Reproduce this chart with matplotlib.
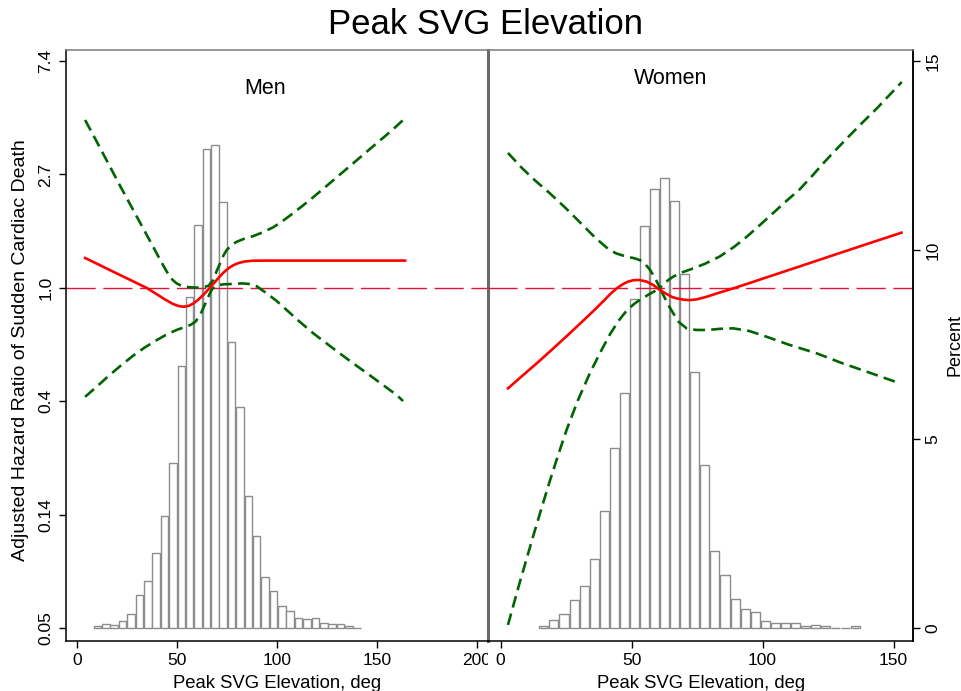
import numpy as np
import matplotlib
matplotlib.use("Agg")
import matplotlib.pyplot as plt
from matplotlib.transforms import Bbox, TransformedBbox

plt.rcParams["font.family"] = ["Liberation Sans", "DejaVu Sans"]
plt.rcParams["lines.scale_dashes"] = False

# ---------------- data ----------------
# Histogram of peak SVG elevation (percent of subjects per bin)
men_bin_start, men_bin_width = 8.3, 4.19
men_pct = [0.05, 0.11, 0.08, 0.18, 0.39, 0.88, 1.25, 1.99, 2.97, 4.37, 6.93,
           8.75, 10.66, 12.67, 12.78, 11.28, 7.58, 5.85, 3.51, 2.43, 1.36,
           0.99, 0.60, 0.46, 0.26, 0.24, 0.28, 0.14, 0.12, 0.11, 0.06, 0.02]
women_bin_start, women_bin_width = 14.6, 3.84
women_pct = [0.05, 0.23, 0.38, 0.74, 1.12, 1.83, 3.11, 4.76, 6.23, 8.70, 10.64,
             11.62, 11.90, 11.30, 9.37, 6.77, 4.33, 2.04, 1.40, 0.77, 0.50,
             0.43, 0.19, 0.15, 0.15, 0.15, 0.05, 0.08, 0.05, 0.02, 0.02, 0.05]

# Spline estimates on the log hazard-ratio scale
men_fit_x = [4.2, 12, 20, 28, 35, 40, 44, 48, 51, 53.5, 56, 58.5, 61, 63.5, 66,
             68.5, 71, 73.5, 76, 78.5, 81, 84, 88, 95, 164.2]
men_fit = [0.264, 0.197, 0.128, 0.06, 0.0, -0.055, -0.1, -0.14, -0.16, -0.166,
           -0.158, -0.135, -0.1, -0.058, -0.01, 0.04, 0.09, 0.137, 0.175, 0.202,
           0.22, 0.233, 0.24, 0.241, 0.241]
men_hi_x = [4.2, 10, 16, 22, 28, 34, 38, 41.5, 44, 46, 48, 50, 52, 54, 57, 60,
            63.3, 66, 68.3, 70, 71.7, 73.5, 75, 77.5, 80, 84, 88.3, 93, 98.3,
            103, 108.3, 113, 118.3, 126, 135, 141, 148.3, 153, 158.3, 163.2]
men_hi = [1.48, 1.29, 1.09, 0.89, 0.695, 0.5, 0.37, 0.255, 0.175, 0.115, 0.07,
          0.04, 0.022, 0.012, 0.005, 0.003, 0.005, 0.02, 0.07, 0.15, 0.217,
          0.29, 0.334, 0.38, 0.407, 0.435, 0.457, 0.49, 0.535, 0.59, 0.66,
          0.725, 0.8, 0.915, 1.05, 1.14, 1.25, 1.32, 1.4, 1.48]
men_lo_x = [4.2, 10, 16, 22, 28, 34, 40, 45, 50, 54, 57, 59.5, 61.5, 63, 64.5,
            66, 67.5, 69, 71, 73.5, 76.7, 80, 83, 86.7, 90, 95, 100, 105, 111,
            118.3, 125, 131, 138.3, 145, 152, 160, 163.2]
men_lo = [-0.96, -0.87, -0.775, -0.685, -0.6, -0.525, -0.46, -0.41, -0.37,
          -0.345, -0.325, -0.295, -0.245, -0.19, -0.13, -0.07, -0.015, 0.012,
          0.025, 0.032, 0.034, 0.038, 0.04, 0.034, 0.015, -0.048, -0.115,
          -0.195, -0.29, -0.4, -0.49, -0.57, -0.665, -0.75, -0.84, -0.944,
          -0.997]

women_fit_x = [2.8, 8, 14, 20, 25.2, 31, 36, 39.5, 42, 44.5, 46.8, 48.7, 50.6,
               53, 55.7, 58.3, 60.8, 63.5, 65.5, 67.2, 70, 72.3, 75, 78.6, 83,
               88.8, 95, 101.5, 114.2, 126.9, 139.7, 153]
women_fit = [-0.885, -0.78, -0.66, -0.535, -0.425, -0.3, -0.19, -0.11, -0.05,
             0.0, 0.035, 0.056, 0.068, 0.07, 0.056, 0.025, -0.018, -0.055,
             -0.08, -0.092, -0.104, -0.107, -0.1, -0.078, -0.045, -0.004,
             0.043, 0.093, 0.19, 0.288, 0.386, 0.487]
women_hi_x = [2.8, 8, 13, 18.8, 25, 31.5, 36, 40.5, 44, 48.1, 51, 53.2, 55,
              57, 59, 60.8, 62.5, 65.9, 69, 73.5, 78, 83.7, 89, 93.9, 99, 104,
              109, 114.2, 119, 123.8, 128.5, 133.3, 138, 143.5, 148, 153.1]
women_hi = [1.19, 1.06, 0.95, 0.834, 0.70, 0.55, 0.445, 0.355, 0.305, 0.275,
            0.262, 0.245, 0.215, 0.16, 0.085, 0.0, 0.045, 0.1, 0.135, 0.172,
            0.213, 0.278, 0.36, 0.45, 0.555, 0.66, 0.765, 0.87, 0.99, 1.115,
            1.23, 1.345, 1.455, 1.58, 1.69, 1.815]
women_lo_x = [2.8, 7, 12.4, 15.5, 18.8, 22, 25.2, 29.5, 34.1, 38, 41.7, 45,
              48.1, 51, 53.2, 56, 58.5, 60.8, 62.5, 64, 65.9, 68, 71, 74.5, 78.6,
              84, 88.8, 95, 101.5, 110, 120.6, 130, 140, 152.4]
women_lo = [-2.97, -2.62, -2.19, -1.95, -1.70, -1.47, -1.25, -0.99, -0.75,
            -0.57, -0.41, -0.29, -0.2, -0.14, -0.105, -0.065, -0.032, -0.004,
            -0.08, -0.15, -0.224, -0.3, -0.356, -0.37, -0.371, -0.36, -0.356,
            -0.38, -0.43, -0.5, -0.576, -0.66, -0.74, -0.841]

hr_ticks = [-3, -2, -1, 0, 1, 2]
hr_labels = ["0.05", "0.14", "0.4", "1.0", "2.7", "7.4"]
pct_ticks = [0, 5, 10, 15]

# ---------------- layout ----------------
W, H = 962, 691
fig = plt.figure(figsize=(W / 100, H / 100), dpi=100)
x_left, x_mid, x_right = 65.7, 488.3, 913.0
y_top, y_bot = 50.0, 640.7
bottom = 1 - y_bot / H
height = (y_bot - y_top) / H

ax_m = fig.add_axes([x_left / W, bottom, (x_mid - x_left) / W, height])
ax_w = fig.add_axes([x_mid / W, bottom, (x_right - x_mid) / W, height])

RED = "#ff0000"
GREEN = "#006400"
REF = "#dc143c"
HIST_EDGE = "#8c8c8c"
TOP_GRAY = "#7a7a7a"
SEP_GRAY = "#6a6a6a"


def draw_panel(ax, fit, hi, lo, pct, bin_start, bin_width, xlim, xticks):
    tw = ax.twinx()
    centers = bin_start + bin_width * (np.arange(len(pct)) + 0.5)
    tw.bar(centers, pct, width=bin_width * 0.9, facecolor="white",
           edgecolor=HIST_EDGE, linewidth=1.0)
    tw.set_ylim(-0.328, 15.29)
    for s in tw.spines.values():
        s.set_visible(False)
    tw.set_yticks([])

    ax.set_zorder(tw.get_zorder() + 1)
    ax.patch.set_visible(False)
    ax.set_yscale("log")
    ax.set_ylim(np.exp(-3.109), np.exp(2.097))
    ax.set_xlim(*xlim)

    ax.axhline(1.0, color=REF, lw=1.0, dashes=(21, 5.5))
    for (xs, ys) in (hi, lo):
        ax.plot(xs, np.exp(ys), color=GREEN, lw=1.9, dashes=(8.5, 4.5))
    ax.plot(fit[0], np.exp(fit[1]), color=RED, lw=1.9)

    ax.set_xticks(xticks)
    ax.set_xticklabels([str(t) for t in xticks])
    ax.tick_params(axis="x", direction="out", length=5, width=1.0,
                   labelsize=12.5, pad=4)
    ax.yaxis.set_minor_locator(matplotlib.ticker.NullLocator())
    return tw


tw_m = draw_panel(ax_m, (men_fit_x, men_fit), (men_hi_x, men_hi),
                  (men_lo_x, men_lo), men_pct, men_bin_start, men_bin_width,
                  (-5.5, 205.8), [0, 50, 100, 150, 200])
tw_w = draw_panel(ax_w, (women_fit_x, women_fit), (women_hi_x, women_hi),
                  (women_lo_x, women_lo), women_pct, women_bin_start,
                  women_bin_width, (-4.7, 157.4), [0, 50, 100, 150])

# Left panel: hazard-ratio axis
ax_m.set_yticks(np.exp(hr_ticks))
ax_m.set_yticklabels(hr_labels)
ax_m.tick_params(axis="y", direction="out", length=5, width=1.0,
                 labelsize=12.5, pad=4)
plt.setp(ax_m.get_yticklabels(), rotation=90, va="center")
ax_w.set_yticks([])

# Right panel: percent axis
tw_w.spines["right"].set_visible(True)
tw_w.spines["right"].set_color("black")
tw_w.spines["right"].set_linewidth(1.1)
tw_w.set_yticks(pct_ticks)
tw_w.set_yticklabels([str(t) for t in pct_ticks])
tw_w.tick_params(axis="y", direction="out", length=5, width=1.0,
                 labelsize=12.5, pad=4)
plt.setp(tw_w.get_yticklabels(), rotation=90, va="center")

# Frame
for ax in (ax_m, ax_w):
    ax.spines["bottom"].set_color("black")
    ax.spines["bottom"].set_linewidth(1.1)
    ax.spines["top"].set_color(TOP_GRAY)
    ax.spines["top"].set_linewidth(1.1)
ax_m.spines["left"].set_color("black")
ax_m.spines["left"].set_linewidth(1.1)
ax_m.spines["right"].set_color(SEP_GRAY)
ax_m.spines["right"].set_linewidth(2.2)
ax_w.spines["left"].set_visible(False)
ax_w.spines["right"].set_color("black")
ax_w.spines["right"].set_linewidth(1.1)

# The last tick label of the men panel is cut at the panel boundary
clip = TransformedBbox(Bbox([[0, 0], [x_mid / W, 1]]), fig.transFigure)
for lab in ax_m.get_xticklabels():
    lab.set_clip_box(clip)
    lab.set_clip_on(True)

# Texts
fig.text(486 / W, 1 - 25 / H, "Peak SVG Elevation", fontsize=25,
         ha="center", va="center")
fig.text(265 / W, 1 - 88 / H, "Men", fontsize=15.5, ha="center", va="center")
fig.text(671 / W, 1 - 79 / H, "Women", fontsize=15.5, ha="center", va="center")
fig.text((x_left + x_mid) / 2 / W, 1 - 687.5 / H, "Peak SVG Elevation, deg",
         fontsize=13.3, ha="center", va="baseline")
fig.text((x_mid + x_right) / 2 / W, 1 - 687.5 / H, "Peak SVG Elevation, deg",
         fontsize=13.3, ha="center", va="baseline")
fig.text(21 / W, 1 - 350 / H, "Adjusted Hazard Ratio of Sudden Cardiac Death",
         fontsize=14, rotation=90, ha="center", va="center")
fig.text(955 / W, 1 - 345 / H, "Percent", fontsize=13, rotation=90,
         ha="center", va="center")

fig.savefig("out.png", dpi=100, facecolor="white")
